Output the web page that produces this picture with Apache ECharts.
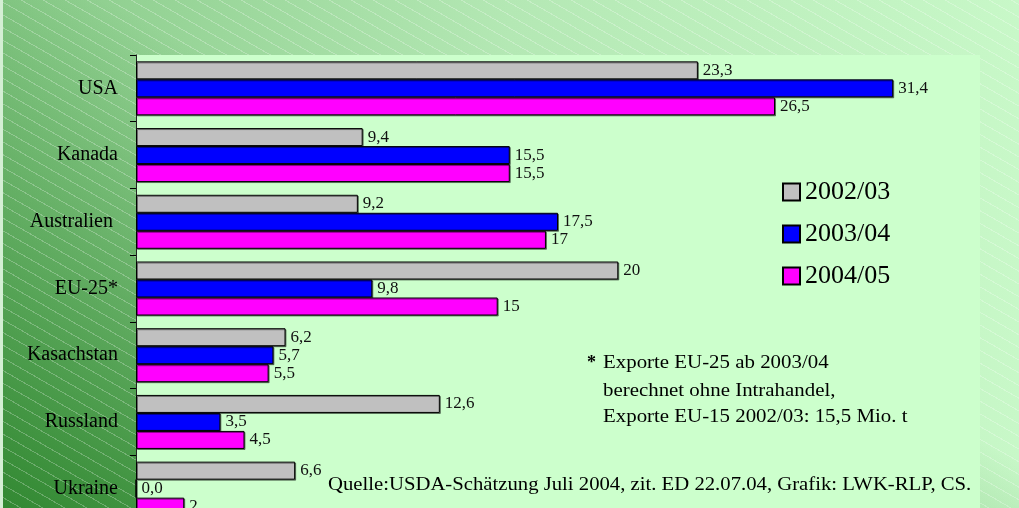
<!DOCTYPE html>
<html>
<head>
<meta charset="utf-8">
<script src="https://cdn.jsdelivr.net/npm/echarts@6/dist/echarts.min.js"></script>
<style>
  html, body { margin: 0; padding: 0; }
  #chart {
    width: 1019px;
    height: 508px;
    background:
      linear-gradient(to right, #d4efd4 0px, #d4efd4 3px, rgba(0,0,0,0) 3px),
      repeating-linear-gradient(30deg, rgba(255,255,255,0) 0px, rgba(255,255,255,0) 10px, rgba(255,255,255,0.25) 10px, rgba(255,255,255,0.25) 11px),
      linear-gradient(to top right, rgba(35,125,35,0.85) 0%, rgba(35,125,35,0) 55%),
      linear-gradient(to right, #88ca88 0%, #b4e8b4 50%, #c8f8c8 100%);
  }
</style>
</head>
<body>
<div id="chart"></div>
<script>
var categories = ['USA', 'Kanada', 'Australien ', 'EU-25*', 'Kasachstan', 'Russland', 'Ukraine']
var seriesNames = ['2002/03', '2003/04', '2004/05']
var values0203 = [23.3, 9.4, 9.2, 20, 6.2, 12.6, 6.6]
var values0304 = [31.4, 15.5, 17.5, 9.8, 5.7, 3.5, 0]
var values0405 = [26.5, 15.5, 17, 15, 5.5, 4.5, 2]
// Beschriftung wie im Original (deutsches Komma)
var labels0203 = ['23,3', '9,4', '9,2', '20', '6,2', '12,6', '6,6']
var labels0304 = ['31,4', '15,5', '17,5', '9,8', '5,7', '3,5', '0,0']
var labels0405 = ['26,5', '15,5', '17', '15', '5,5', '4,5', '2']

var serif = '"Liberation Serif", "Times New Roman", serif'

var makeSeries = function(name, values, labels, color) {
  return {
    name: name,
    type: 'bar',
    data: values,
    barWidth: 18,
    barGap: '0%',
    itemStyle: {
      color: color,
      borderColor: '#000',
      borderWidth: 1,
      shadowColor: 'rgba(0,0,0,0.45)',
      shadowOffsetX: 1,
      shadowOffsetY: 1
    },
    label: {
      show: true,
      position: 'right',
      distance: 5,
      fontFamily: serif,
      fontSize: 17,
      color: '#111',
      formatter: function(p) { return labels[p.dataIndex] }
    }
  }
}

// Text etwas breiter gezogen, wie im Original
var note = function(text, x, y, size, stretch, bold) {
  return {
    type: 'text',
    x: x,
    y: y,
    scaleX: stretch,
    style: {
      text: text,
      font: (bold ? 'bold ' : '') + size + 'px ' + serif,
      fill: '#000',
      verticalAlign: 'middle'
    }
  }
}

var chart = echarts.init(document.getElementById('chart'))
var option = {
  backgroundColor: 'transparent',
  animation: false,
  grid: {
    left: 136,
    top: 55,
    width: 844,
    height: 467,
    outerBoundsMode: 'none',
    show: true,
    backgroundColor: '#ccffcc',
    borderWidth: 0
  },
  legend: {
    orient: 'vertical',
    left: 782,
    top: 179,
    padding: 0,
    itemWidth: 17,
    itemHeight: 17,
    itemGap: 16,
    icon: 'rect',
    textStyle: { fontFamily: serif, fontSize: 26, color: '#000' },
    data: seriesNames
  },
  xAxis: {
    type: 'value',
    min: 0,
    max: 35,
    show: false
  },
  yAxis: {
    type: 'category',
    inverse: true,
    data: categories,
    axisLine: { show: true, lineStyle: { color: '#222', width: 1 } },
    axisTick: { show: true, length: 6, lineStyle: { color: '#000' } },
    axisLabel: { fontFamily: serif, fontSize: 20, color: '#000', margin: 18 }
  },
  graphic: [
    note('*', 587, 363, 18, 1, true),
    note('Exporte EU-25 ab 2003/04', 603, 363, 18, 1.16),
    note('berechnet ohne Intrahandel,', 603, 391, 18, 1.16),
    note('Exporte EU-15 2002/03: 15,5 Mio. t', 603, 417, 18, 1.16),
    note('Quelle:USDA-Schätzung Juli 2004, zit. ED 22.07.04, Grafik: LWK-RLP, CS.', 328, 485, 19, 1.09)
  ],
  series: [
    makeSeries(seriesNames[0], values0203, labels0203, '#c0c0c0'),
    makeSeries(seriesNames[1], values0304, labels0304, '#0000ff'),
    makeSeries(seriesNames[2], values0405, labels0405, '#ff00ff')
  ]
}
chart.setOption(option)
</script>
</body>
</html>
